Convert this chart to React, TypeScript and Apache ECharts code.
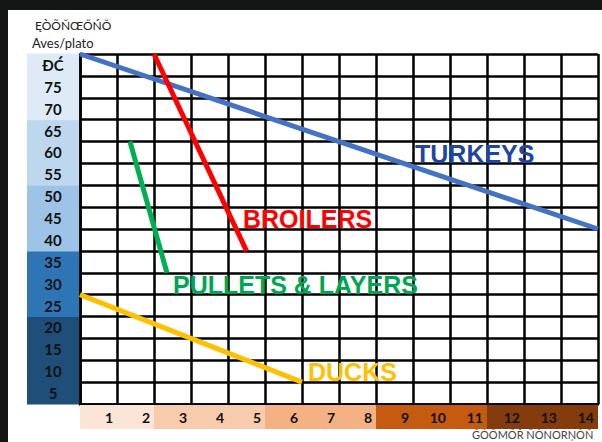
import React, { useEffect, useRef } from "react";
import * as echarts from "echarts";

const xTickLabels = ["1", "2", "3", "4", "5", "6", "7", "8", "9", "10", "11", "12", "13", "14"];
const xBandGroup = [0, 0, 1, 1, 1, 2, 2, 2, 3, 3, 3, 4, 4, 4];
const xBandColors = ["#fbe5d6", "#f8cbad", "#f4b183", "#c55a11", "#843c0c"];

const yTickLabels = ["5", "10", "15", "20", "25", "30", "35", "40", "45", "50", "55", "60", "65", "70", "75", "ĐĆ"];
const yBandGroup = [0, 0, 0, 0, 1, 1, 1, 2, 2, 2, 3, 3, 3, 4, 4, 4];
const yBandColors = ["#1f4e79", "#2e75b6", "#9dc3e6", "#bdd7ee", "#deebf7"];

const turkeys = [[0, 80], [14, 40]];
const broilers = [[2, 80], [4.5, 35]];
const pullets = [[1.35, 60], [2.35, 30]];
const ducks = [[0, 25], [6, 5]];

const seriesNames = ["TURKEYS", "BROILERS", "PULLETS & LAYERS", "DUCKS"];
const lineColors = ["#4472c4", "#ff0000", "#00b050", "#ffc000"];
const labelColors = ["#1f45a3", "#ff0000", "#00a651", "#ffc000"];

const titleLine1 = "ĘÒÕŇŒŐŃŎ";
const titleLine2 = "Aves/plato";
const xAxisTitle = "ĞÒÕMÕŘ ÑÒNORŅÒŇ";

export default function App() {
  const ref = useRef<HTMLDivElement>(null);
  useEffect(() => {
    if (!ref.current) return;
    const chart = echarts.init(ref.current, null, { renderer: "svg" });
    const xRich: any = {};
    xBandColors.forEach((c, i) => {
      xRich["x" + i] = {
        width: 33,
        height: 24,
        lineHeight: 24,
        padding: [0, 4, 0, 0],
        align: "right",
        backgroundColor: c,
        color: "#111",
        fontWeight: "bold",
        fontSize: 14,
        fontFamily: "Lato",
      };
    });
    const yRich: any = {};
    yBandColors.forEach((c, i) => {
      yRich["y" + i] = {
        width: 52,
        height: 23,
        lineHeight: 23,
        align: "center",
        backgroundColor: c,
        color: "#111",
        fontWeight: "bold",
        fontSize: 15,
        fontFamily: "Lato",
      };
    });
    const mkLine = (name: string, data: number[][], color: string) => ({
      type: "line",
      name,
      data,
      xAxisIndex: 0,
      yAxisIndex: 0,
      symbol: "none",
      clip: false,
      lineStyle: { color, width: 5, cap: "butt" },
      z: 5,
    });
    const mkLabel = (i: number, x: number, y: number) => ({
      type: "text",
      x,
      y,
      z: 10,
      style: {
        text: seriesNames[i],
        fontSize: 25,
        fontWeight: "bold",
        fill: labelColors[i],
        fontFamily: "Liberation Sans",
        verticalAlign: "middle",
      },
    });
    const option: any = {
      animation: false,
      backgroundColor: "#ffffff",
      textStyle: { fontFamily: "Lato" },
      grid: { left: 72, top: 44, width: 518, height: 350, containLabel: false },
      xAxis: [
        {
          type: "value",
          min: 0,
          max: 14,
          interval: 1,
          position: "bottom",
          axisLine: { show: true, onZero: false, lineStyle: { color: "#000", width: 2.5 } },
          axisTick: { show: false },
          axisLabel: { show: false },
          splitLine: { show: true, lineStyle: { color: "#000", width: 2.5 } },
        },
        {
          type: "category",
          data: xTickLabels,
          position: "bottom",
          axisLine: { show: false, onZero: false },
          axisTick: { show: false },
          splitLine: { show: false },
          axisLabel: {
            interval: 0,
            margin: 1,
            formatter: (v: string, i: number) => `{x${xBandGroup[i]}|${v}}`,
            rich: xRich,
          },
        },
      ],
      yAxis: [
        {
          type: "value",
          min: 0,
          max: 80,
          interval: 5,
          position: "left",
          axisLine: { show: true, onZero: false, lineStyle: { color: "#000", width: 2.5 } },
          axisTick: { show: false },
          axisLabel: { show: false },
          splitLine: { show: true, lineStyle: { color: "#000", width: 2.5 } },
        },
        {
          type: "category",
          data: yTickLabels,
          position: "left",
          axisLine: { show: false, onZero: false },
          axisTick: { show: false },
          splitLine: { show: false },
          axisLabel: {
            interval: 0,
            margin: 1,
            align: "right",
            formatter: (v: string, i: number) => `{y${yBandGroup[i]}|${v}}`,
            rich: yRich,
          },
        },
      ],
      series: [
        mkLine(seriesNames[0], turkeys, lineColors[0]),
        mkLine(seriesNames[1], broilers, lineColors[1]),
        mkLine(seriesNames[2], pullets, lineColors[2]),
        mkLine(seriesNames[3], ducks, lineColors[3]),
      ],
      graphic: [
        { type: "text", left: 27, top: 9, style: { text: titleLine1, fontSize: 12, fill: "#222", fontFamily: "Lato" } },
        { type: "text", left: 24, top: 26, style: { text: titleLine2, fontSize: 13, fill: "#222", fontFamily: "Lato" } },
        { type: "text", left: 464, top: 419, style: { text: xAxisTitle, fontSize: 11, fill: "#444", fontFamily: "Lato" } },
        mkLabel(0, 407, 143.5),
        mkLabel(1, 235, 209),
        mkLabel(2, 165, 274.5),
        mkLabel(3, 300, 362),
      ],
    };
    chart.setOption(option);
    return () => chart.dispose();
  }, []);
  return (
    <div style={{ position: "fixed", left: 0, top: 0, width: 602, height: 442, background: "#141515" }}>
      <div ref={ref} style={{ position: "absolute", left: 8, top: 10, width: 594, height: 432, background: "#fff" }} />
    </div>
  );
}
